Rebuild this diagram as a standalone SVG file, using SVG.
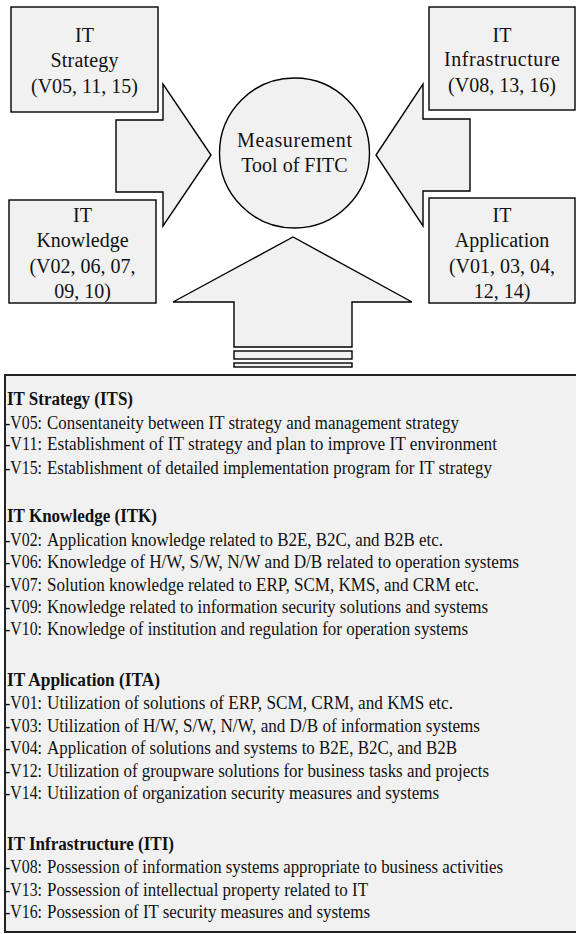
<svg xmlns="http://www.w3.org/2000/svg" width="576" height="934" viewBox="0 0 576 934">
  <style>
    .shape { fill: #f1f1f1; stroke: #000; stroke-width: 1.4; }
    .lbl { font-family: "Liberation Serif", "Times New Roman", serif; font-size: 20px; fill: #111; text-anchor: middle; }
    .panel { fill: #f1f1f1; stroke: #222; stroke-width: 2; }
    .hd { font-family: "Liberation Serif", "Times New Roman", serif; font-size: 18px; font-weight: bold; fill: #111; }
    .tx { font-family: "Liberation Serif", "Times New Roman", serif; font-size: 18px; fill: #111; }
  </style>

  <!-- block arrows pointing to the central tool -->
  <g id="connectors">
    <polygon class="shape" points="116,120 163,120 163,84 211,155 163,226 163,192 116,192"/>
    <polygon class="shape" points="470,119 423,119 423,84 376,155 423,226 423,191 470,191"/>
    <polygon class="shape" points="234,347 234,302 173,302 293,237 412,302 352,302 352,347"/>
    <rect class="shape" x="234" y="351" width="118" height="8"/>
    <rect class="shape" x="234" y="363" width="118" height="4"/>
  </g>

  <g id="it-strategy">
    <rect class="shape" x="11" y="7" width="147" height="105"/>
    <text class="lbl" x="84.5" y="42">IT</text>
    <text class="lbl" x="84.5" y="67" textLength="68" lengthAdjust="spacing">Strategy</text>
    <text class="lbl" x="84.5" y="93">(V05, 11, 15)</text>
  </g>

  <g id="it-infrastructure">
    <rect class="shape" x="429" y="7" width="146" height="103"/>
    <text class="lbl" x="502" y="42">IT</text>
    <text class="lbl" x="502" y="66" textLength="116" lengthAdjust="spacing">Infrastructure</text>
    <text class="lbl" x="502" y="92">(V08, 13, 16)</text>
  </g>

  <g id="it-knowledge">
    <rect class="shape" x="9" y="200" width="147" height="103"/>
    <text class="lbl" x="82.5" y="222">IT</text>
    <text class="lbl" x="82.5" y="247">Knowledge</text>
    <text class="lbl" x="82.5" y="273">(V02, 06, 07,</text>
    <text class="lbl" x="82.5" y="298">09, 10)</text>
  </g>

  <g id="it-application">
    <rect class="shape" x="429" y="198" width="146" height="105"/>
    <text class="lbl" x="502" y="222">IT</text>
    <text class="lbl" x="502" y="247">Application</text>
    <text class="lbl" x="502" y="273">(V01, 03, 04,</text>
    <text class="lbl" x="502" y="298">12, 14)</text>
  </g>

  <g id="measurement-tool">
    <circle class="shape" cx="294.5" cy="153" r="75"/>
    <text class="lbl" x="294.5" y="147" textLength="115" lengthAdjust="spacing">Measurement</text>
    <text class="lbl" x="294.5" y="172">Tool of FITC</text>
  </g>

  <!-- legend of measurement variables -->
  <g id="variable-list">
    <rect class="panel" x="5" y="375" width="580" height="557"/>

    <text class="hd" x="7" y="405" textLength="126" lengthAdjust="spacingAndGlyphs">IT Strategy (ITS)</text>
    <text class="tx" x="5" y="429" textLength="37" lengthAdjust="spacingAndGlyphs">-V05:</text>
    <text class="tx" x="47" y="429" textLength="412" lengthAdjust="spacingAndGlyphs">Consentaneity between IT strategy and management strategy</text>
    <text class="tx" x="5" y="450" textLength="37" lengthAdjust="spacingAndGlyphs">-V11:</text>
    <text class="tx" x="47" y="450" textLength="450" lengthAdjust="spacingAndGlyphs">Establishment of IT strategy and plan to improve IT environment</text>
    <text class="tx" x="5" y="474" textLength="37" lengthAdjust="spacingAndGlyphs">-V15:</text>
    <text class="tx" x="47" y="474" textLength="445" lengthAdjust="spacingAndGlyphs">Establishment of detailed implementation program for IT strategy</text>

    <text class="hd" x="7" y="522" textLength="150" lengthAdjust="spacingAndGlyphs">IT Knowledge (ITK)</text>
    <text class="tx" x="5" y="546" textLength="37" lengthAdjust="spacingAndGlyphs">-V02:</text>
    <text class="tx" x="47" y="546" textLength="396" lengthAdjust="spacingAndGlyphs">Application knowledge related to B2E, B2C, and B2B etc.</text>
    <text class="tx" x="5" y="568" textLength="37" lengthAdjust="spacingAndGlyphs">-V06:</text>
    <text class="tx" x="47" y="568" textLength="472" lengthAdjust="spacingAndGlyphs">Knowledge of H/W, S/W, N/W and D/B related to operation systems</text>
    <text class="tx" x="5" y="591" textLength="37" lengthAdjust="spacingAndGlyphs">-V07:</text>
    <text class="tx" x="47" y="591" textLength="432" lengthAdjust="spacingAndGlyphs">Solution knowledge related to ERP, SCM, KMS, and CRM etc.</text>
    <text class="tx" x="5" y="613" textLength="37" lengthAdjust="spacingAndGlyphs">-V09:</text>
    <text class="tx" x="47" y="613" textLength="441" lengthAdjust="spacingAndGlyphs">Knowledge related to information security solutions and systems</text>
    <text class="tx" x="5" y="635" textLength="37" lengthAdjust="spacingAndGlyphs">-V10:</text>
    <text class="tx" x="47" y="635" textLength="421" lengthAdjust="spacingAndGlyphs">Knowledge of institution and regulation for operation systems</text>

    <text class="hd" x="7" y="686" textLength="153" lengthAdjust="spacingAndGlyphs">IT Application (ITA)</text>
    <text class="tx" x="5" y="709" textLength="37" lengthAdjust="spacingAndGlyphs">-V01:</text>
    <text class="tx" x="47" y="709" textLength="406" lengthAdjust="spacingAndGlyphs">Utilization of solutions of ERP, SCM, CRM, and KMS etc.</text>
    <text class="tx" x="5" y="732" textLength="37" lengthAdjust="spacingAndGlyphs">-V03:</text>
    <text class="tx" x="47" y="732" textLength="433" lengthAdjust="spacingAndGlyphs">Utilization of H/W, S/W, N/W, and D/B of information systems</text>
    <text class="tx" x="5" y="754" textLength="37" lengthAdjust="spacingAndGlyphs">-V04:</text>
    <text class="tx" x="47" y="754" textLength="410" lengthAdjust="spacingAndGlyphs">Application of solutions and systems to B2E, B2C, and B2B</text>
    <text class="tx" x="5" y="777" textLength="37" lengthAdjust="spacingAndGlyphs">-V12:</text>
    <text class="tx" x="47" y="777" textLength="442" lengthAdjust="spacingAndGlyphs">Utilization of groupware solutions for business tasks and projects</text>
    <text class="tx" x="5" y="799" textLength="37" lengthAdjust="spacingAndGlyphs">-V14:</text>
    <text class="tx" x="47" y="799" textLength="392" lengthAdjust="spacingAndGlyphs">Utilization of organization security measures and systems</text>

    <text class="hd" x="7" y="850" textLength="167" lengthAdjust="spacingAndGlyphs">IT Infrastructure (ITI)</text>
    <text class="tx" x="5" y="873" textLength="37" lengthAdjust="spacingAndGlyphs">-V08:</text>
    <text class="tx" x="47" y="873" textLength="456" lengthAdjust="spacingAndGlyphs">Possession of information systems appropriate to business activities</text>
    <text class="tx" x="5" y="896" textLength="37" lengthAdjust="spacingAndGlyphs">-V13:</text>
    <text class="tx" x="47" y="896" textLength="321" lengthAdjust="spacingAndGlyphs">Possession of intellectual property related to IT</text>
    <text class="tx" x="5" y="918" textLength="37" lengthAdjust="spacingAndGlyphs">-V16:</text>
    <text class="tx" x="47" y="918" textLength="323" lengthAdjust="spacingAndGlyphs">Possession of IT security measures and systems</text>
  </g>
</svg>
